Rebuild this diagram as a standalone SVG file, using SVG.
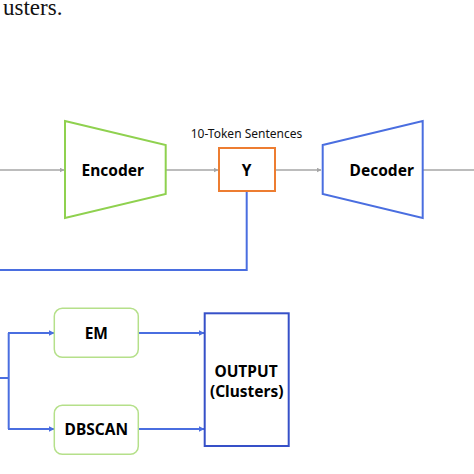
<svg xmlns="http://www.w3.org/2000/svg" width="474" height="474" viewBox="0 0 474 474">
<style>
.lbl{font-family:"Noto Sans","Noto Sans CJK KR",sans-serif;font-weight:bold;font-size:15.5px;fill:#000;text-anchor:middle}
.gray{stroke:#a6a6a6;stroke-width:1.5;fill:none}
.blue{stroke:#4a6ee0;stroke-width:2;fill:none}
</style>
<defs>
<marker id="ag" viewBox="0 0 10 10" refX="9" refY="5" markerWidth="5" markerHeight="5" orient="auto" markerUnits="userSpaceOnUse"><path d="M0,0 L10,5 L0,10 z" fill="#a6a6a6"/></marker>
<marker id="ab" viewBox="0 0 10 10" refX="9" refY="5" markerWidth="6" markerHeight="6" orient="auto" markerUnits="userSpaceOnUse"><path d="M0,0 L10,5 L0,10 z" fill="#4a6ee0"/></marker>
</defs>
<rect width="474" height="474" fill="#fff"/>
<text x="3" y="15" font-family="Liberation Serif, serif" font-size="23" fill="#111">usters.</text>
<g id="connectors">
<line class="gray" x1="0" y1="170" x2="64" y2="170" marker-end="url(#ag)"/>
<line class="gray" x1="166" y1="170" x2="218" y2="170" marker-end="url(#ag)"/>
<line class="gray" x1="276" y1="170" x2="321" y2="170" marker-end="url(#ag)"/>
<line class="gray" x1="423" y1="170" x2="474" y2="170"/>
<polyline class="blue" points="246.7,192 246.7,270 0,270"/>
<line class="blue" x1="0" y1="378" x2="8.7" y2="378"/>
<line class="blue" x1="8.7" y1="333" x2="8.7" y2="429"/>
<line class="blue" x1="8" y1="333" x2="54" y2="333" marker-end="url(#ab)"/>
<line class="blue" x1="8" y1="429" x2="54" y2="429" marker-end="url(#ab)"/>
<line class="blue" x1="139" y1="333" x2="204" y2="333" marker-end="url(#ab)"/>
<line class="blue" x1="139" y1="429" x2="204" y2="429" marker-end="url(#ab)"/>
</g>
<g id="encoder">
<polygon points="65,121 165.7,145 165.7,194 65,218" fill="#fff" stroke="#8fd14f" stroke-width="2"/>
<text class="lbl" x="112.7" y="176">Encoder</text>
</g>
<g id="y">
<rect x="219" y="148" width="56" height="43" fill="#fff" stroke="#ed7d31" stroke-width="2"/>
<text class="lbl" x="246.7" y="176">Y</text>
<text x="246.5" y="138" font-family="Noto Sans, Noto Sans CJK KR, sans-serif" font-size="12" text-anchor="middle" fill="#111">10-Token Sentences</text>
</g>
<g id="decoder">
<polygon points="322.7,145 422.7,121 422.7,218 322.7,194" fill="#fff" stroke="#4a6ee0" stroke-width="2"/>
<text class="lbl" x="381.7" y="176">Decoder</text>
</g>
<g id="em">
<rect x="54.3" y="308.3" width="84" height="49" rx="8" fill="#fff" stroke="#b5e08a" stroke-width="1.5"/>
<text class="lbl" x="96.3" y="338.5">EM</text>
</g>
<g id="dbscan">
<rect x="54.3" y="405.3" width="84" height="49" rx="8" fill="#fff" stroke="#b5e08a" stroke-width="1.5"/>
<text class="lbl" x="96.3" y="435">DBSCAN</text>
</g>
<g id="output">
<rect x="204.7" y="313.3" width="84" height="132.7" fill="#fff" stroke="#3650c8" stroke-width="2"/>
<text class="lbl" x="246" y="377">OUTPUT</text>
<text class="lbl" x="246.7" y="397">(Clusters)</text>
</g>
</svg>
